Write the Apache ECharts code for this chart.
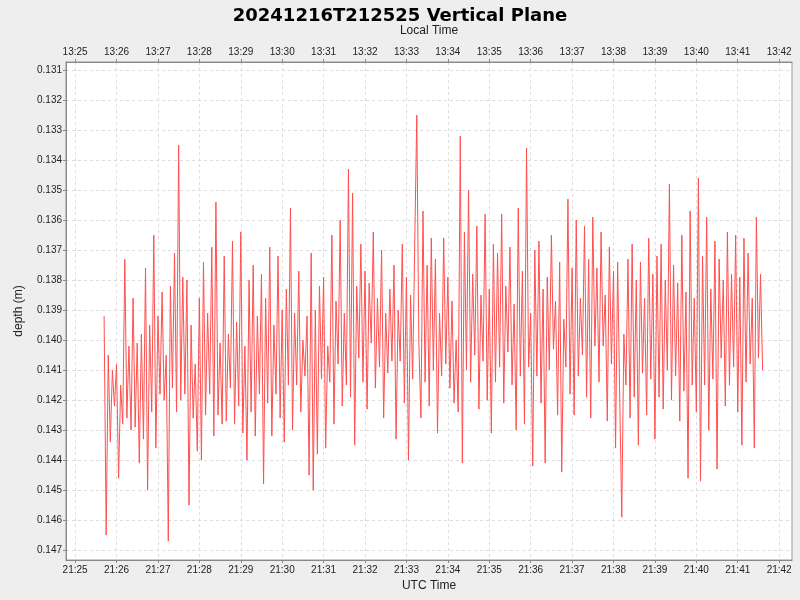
<!DOCTYPE html>
<html><head><meta charset="utf-8">
<script src="https://cdn.jsdelivr.net/npm/echarts@6/dist/echarts.min.js"></script>
<style>html,body{margin:0;background:#eeeeee}#c{width:800px;height:600px}</style>
</head><body><div id="c"></div>
<script>
const startMin = 25.7, stepMin = 0.05; // minutes after 21:00 UTC
const depthMm = [
139.2,146.5,140.5,143.4,141.0,142.2,140.8,144.6,141.5,142.8,137.3,142.6,140.2,143.0,138.6,142.9,140.1,144.1,139.8,143.3,
137.6,145.0,139.5,142.4,136.5,143.6,139.2,141.8,138.4,142.0,140.5,146.7,138.2,141.6,137.1,142.4,133.5,142.0,137.9,141.8,
138.0,145.5,139.5,142.6,140.8,143.7,138.6,144.0,137.4,142.5,139.1,141.8,136.9,143.2,135.4,142.5,140.1,142.8,137.2,142.7,
139.8,141.6,136.7,142.8,139.4,142.2,136.4,143.1,140.2,144.0,138.0,142.4,137.5,143.2,139.2,141.8,137.8,144.8,138.6,142.1,
136.9,143.2,139.5,141.8,137.2,142.6,139.0,143.4,138.3,141.5,135.6,143.0,139.1,141.5,137.7,142.4,140.0,141.2,139.2,144.5,
137.1,145.0,139.0,143.8,138.2,141.3,137.9,143.6,140.2,141.4,136.5,142.8,138.7,140.8,136.0,142.2,139.1,141.5,134.3,141.9,
135.1,143.5,138.2,140.6,136.8,141.4,137.7,142.3,138.1,140.1,136.4,141.6,138.6,140.9,137.0,142.6,139.1,141.1,138.3,140.7,
137.5,143.3,139.0,140.7,136.8,142.1,137.9,144.0,138.5,141.3,136.8,132.5,140.1,142.6,135.7,141.4,137.5,142.2,136.6,141.0,
137.3,143.1,139.1,141.2,136.6,140.8,137.9,141.6,138.7,142.1,140.0,142.4,133.2,144.1,136.4,141.0,135.0,141.4,137.8,140.5,
136.2,142.3,138.5,140.7,135.8,142.0,138.3,143.1,136.8,141.4,137.1,140.9,135.8,142.1,138.2,140.4,136.9,141.5,138.8,143.0,
135.6,141.2,137.7,142.8,133.6,140.9,139.1,144.2,137.0,141.2,136.7,142.1,138.3,144.1,137.9,141.0,136.5,140.3,138.7,142.5,
137.4,144.4,139.3,140.9,135.3,141.8,137.6,142.5,136.0,141.2,138.6,140.5,136.2,141.9,137.3,142.6,135.9,140.2,137.6,141.4,
136.4,140.2,138.5,142.7,136.9,140.8,137.7,143.6,137.4,141.9,145.9,139.8,141.5,137.3,142.6,136.8,141.9,138.0,143.5,137.4,
141.1,138.6,142.5,136.6,141.3,137.8,143.3,137.2,141.9,136.8,142.3,138.0,141.0,134.8,142.0,137.5,141.2,138.1,142.7,136.5,
141.7,138.4,144.6,135.7,141.5,138.6,142.4,134.6,144.7,137.2,141.5,135.9,143.0,138.3,141.3,136.7,144.3,137.3,140.6,138.0,
142.2,136.4,141.5,137.8,140.9,136.5,142.4,137.9,143.5,136.6,141.4,137.1,140.8,138.6,143.6,135.9,140.6,137.8,141.0
];
const minuteTicks = [25,26,27,28,29,30,31,32,33,34,35,36,37,38,39,40,41,42];
const depthTicks = [0.131,0.132,0.133,0.134,0.135,0.136,0.137,0.138,0.139,0.140,0.141,0.142,0.143,0.144,0.145,0.146,0.147];
const data = depthMm.map((d,i)=>[startMin+i*stepMin, d/1000]);
const grid = {lineStyle:{color:'#dddddd',type:[3,3]}};
const xBase = {type:'value',min:24.78,max:42.31,
  axisLine:{lineStyle:{color:'#888'}},axisTick:{customValues:minuteTicks,length:3,lineStyle:{color:'#888'}},
  splitLine:{show:false},nameLocation:'middle',nameTextStyle:{color:'#222',fontSize:12}};
const chart = echarts.init(document.getElementById('c'));
chart.setOption({
  backgroundColor:'#eeeeee',animation:false,
  title:{text:'20241216T212525 Vertical Plane',left:'center',top:2,textStyle:{fontSize:18,fontWeight:'bold',color:'#000',fontFamily:'DejaVu Sans'}},
  grid:{left:66,right:8,top:62,bottom:40,containLabel:false,outerBoundsMode:'none',show:true,backgroundColor:'#fff',borderColor:'#999',borderWidth:1},
  xAxis:[
    Object.assign({},xBase,{position:'bottom',name:'UTC Time',nameGap:20,splitLine:Object.assign({show:true},grid),
      axisLabel:{customValues:minuteTicks,fontSize:10,color:'#222',margin:5,formatter:v=>'21:'+Math.round(v)}}),
    Object.assign({},xBase,{position:'top',name:'Local Time',nameGap:25,
      axisLabel:{customValues:minuteTicks,fontSize:10,color:'#222',margin:5,formatter:v=>'13:'+Math.round(v)}})
  ],
  yAxis:{type:'value',inverse:true,min:0.13073,max:0.14733,name:'depth (m)',nameLocation:'middle',nameGap:41,
    nameTextStyle:{color:'#222',fontSize:12},
    axisLine:{show:true,lineStyle:{color:'#888'}},axisTick:{show:true,customValues:depthTicks,length:3,lineStyle:{color:'#888'}},
    axisLabel:{customValues:depthTicks,fontSize:10,color:'#222',margin:4,formatter:v=>v.toFixed(3)},
    splitLine:Object.assign({show:true},grid)},
  series:[{type:'line',data:data,showSymbol:false,lineStyle:{color:'#ff5050',width:1},xAxisIndex:0}]
});
</script></body></html>
